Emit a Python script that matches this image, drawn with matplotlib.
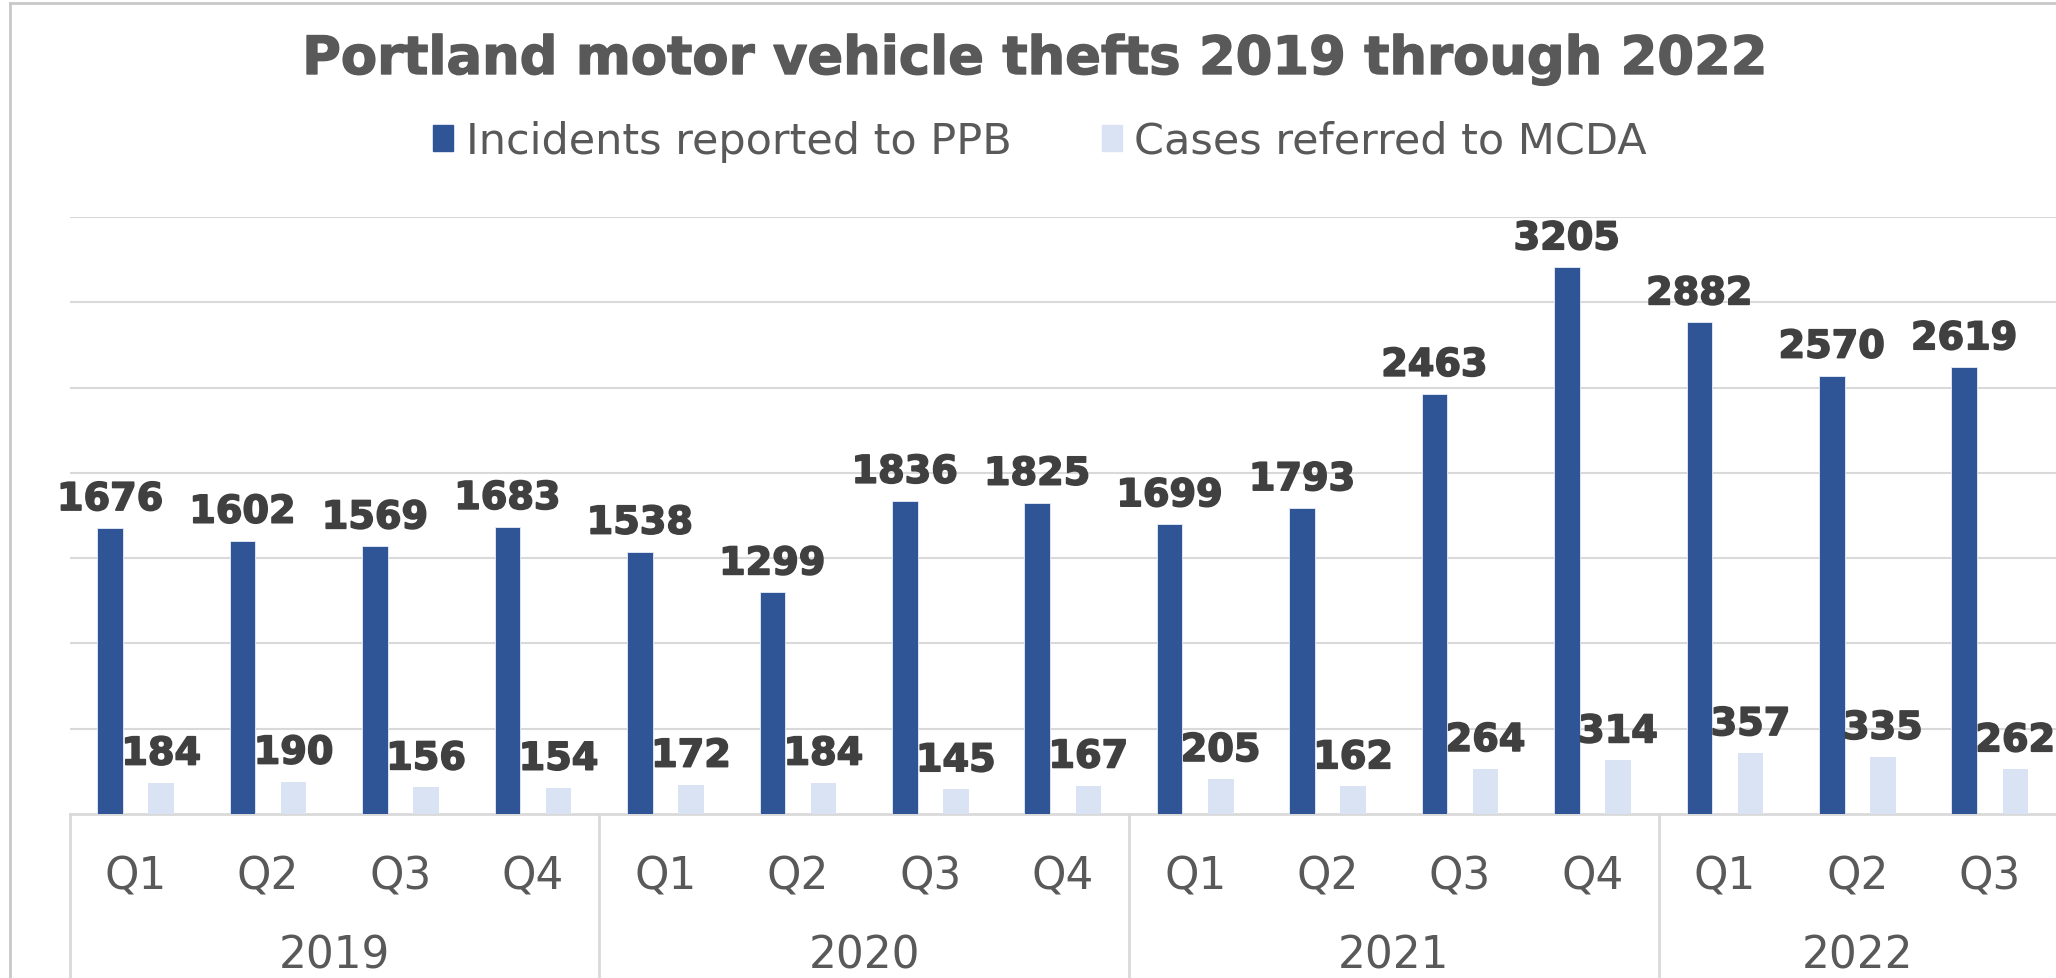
import matplotlib
matplotlib.use("Agg")
import matplotlib.pyplot as plt
import matplotlib.patheffects as pe
from matplotlib.patches import Patch
from matplotlib.lines import Line2D

# data
years = ["2019", "2020", "2021", "2022"]
quarters = ["Q1", "Q2", "Q3", "Q4", "Q1", "Q2", "Q3", "Q4",
            "Q1", "Q2", "Q3", "Q4", "Q1", "Q2", "Q3"]
quarters_per_year = [4, 4, 4, 3]
incidents_ppb = [1676, 1602, 1569, 1683, 1538, 1299, 1836, 1825,
                 1699, 1793, 2463, 3205, 2882, 2570, 2619]
cases_mcda = [184, 190, 156, 154, 172, 184, 145, 167,
              205, 162, 264, 314, 357, 335, 262]

DARK = "#2F5597"
LIGHT = "#DAE3F3"
GRID = "#D9D9D9"
TXT = "#595959"
LBL = "#404040"

W, H = 2056, 979
fig = plt.figure(figsize=(W / 100, H / 100), dpi=100)
plt.rcParams["font.family"] = ["DejaVu Sans"]

ax_left, ax_bottom_px, ax_top_px = 69.5, 815, 218
ax = fig.add_axes([ax_left / W, (H - ax_bottom_px) / H,
                   1 - ax_left / W, (ax_bottom_px - ax_top_px) / H])

x = list(range(len(quarters)))
bw, off = 0.193, 0.193
ax.bar([i - off for i in x], incidents_ppb, width=bw, color=DARK,
       edgecolor="#E8EEF8", linewidth=0.6, zorder=3)
ax.bar([i + off for i in x], cases_mcda, width=bw, color=LIGHT, zorder=3)

ax.set_xlim(-0.5, len(quarters) - 0.5)
ax.set_ylim(0, 3500)
ax.set_yticks(range(500, 3501, 500))
ax.yaxis.grid(True, color=GRID, linewidth=1.5, zorder=0)
ax.tick_params(left=False, labelleft=False, bottom=False, labelbottom=False)
for s in ["left", "right", "top"]:
    ax.spines[s].set_visible(False)
ax.spines["bottom"].set_color(GRID)
ax.spines["bottom"].set_linewidth(2)

# value labels (slight stroke to mimic the heavier Verdana Bold)
heavy = [pe.withStroke(linewidth=1.2, foreground=LBL)]
for i in x:
    for xi, v in ((i - off, incidents_ppb[i]), (i + off, cases_mcda[i])):
        ax.annotate(str(v), (xi, v), xytext=(0, 13), textcoords="offset points",
                    ha="center", va="baseline", fontsize=27.5, fontweight="bold",
                    color=LBL, zorder=5, path_effects=heavy)

# two-level category axis
ph = ax_bottom_px - ax_top_px
xt = ax.get_xaxis_transform()
y_q = -(877 - ax_bottom_px) / ph
y_y = -(956 - ax_bottom_px) / ph
y_end = -(H - ax_bottom_px + 5) / ph
for i, q in enumerate(quarters):
    ax.text(i, y_q, q, transform=xt, ha="center", va="center",
            fontsize=31.5, color=TXT)
start = 0
for yr, n in zip(years, quarters_per_year):
    ax.plot([start - 0.5, start - 0.5], [0, y_end], transform=xt,
            color=GRID, linewidth=2, clip_on=False)
    ax.text(start + (n - 1) / 2, y_y, yr, transform=xt, ha="center",
            va="center", fontsize=31.5, color=TXT)
    start += n

# title and legend
fig.text(1034 / W, 1 - 60 / H, "Portland motor vehicle thefts 2019 through 2022",
         ha="center", va="center", fontsize=38, fontweight="bold", color=TXT,
         path_effects=[pe.withStroke(linewidth=1.0, foreground=TXT)])
handles = [Patch(color=DARK), Patch(color=LIGHT)]
fig.legend(handles, ["Incidents reported to PPB", "Cases referred to MCDA"],
           loc="center", bbox_to_anchor=(1040 / W, 1 - 142 / H), ncol=2,
           frameon=False, fontsize=31, labelcolor=TXT, handlelength=0.46,
           handleheight=0.55, handletextpad=0.3, columnspacing=2.1)

# chart border (cropped on the right and bottom)
fig.add_artist(Line2D([10 / W, 10 / W], [0, 1 - 4 / H], color="#C8C8C8", linewidth=2))
fig.add_artist(Line2D([10 / W, 1], [1 - 4 / H, 1 - 4 / H], color="#C8C8C8", linewidth=2))

fig.savefig("out.png", dpi=100, facecolor="white")
